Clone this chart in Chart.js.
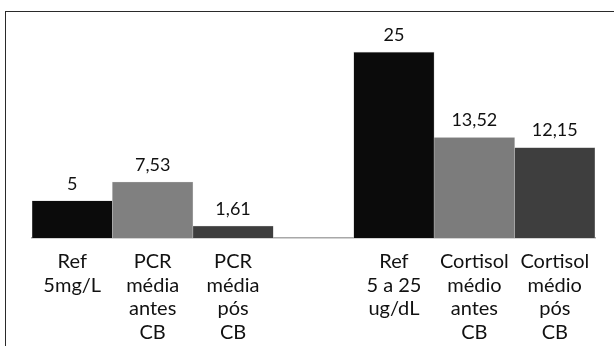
<!DOCTYPE html>
<html>
<head>
<meta charset="utf-8">
<script src="https://cdn.jsdelivr.net/npm/chart.js@4/dist/chart.umd.min.js"></script>
<style>
  html, body { margin: 0; padding: 0; background: #fff; }
  #wrap { position: relative; width: 614px; height: 346px; overflow: hidden; }
  #frame { position: absolute; left: 5px; top: 11px; width: 700px; height: 400px;
           border-top: 1.5px solid #2a2a2a; border-left: 1.5px solid #2a2a2a; }
  canvas { position: absolute; left: 0; top: 0; }
</style>
</head>
<body>
<div id="wrap">
  <div id="frame"></div>
  <canvas id="c" width="614" height="346"></canvas>
</div>
<script>
// Categories (multi-line labels), the empty slot separates the two groups
const categories = [
  ["Ref", "5mg/L"],
  ["PCR", "média", "antes", "CB"],
  ["PCR", "média", "pós", "CB"],
  [""],
  ["Ref", "5 a 25", "ug/dL"],
  ["Cortisol", "médio", "antes", "CB"],
  ["Cortisol", "médio", "pós", "CB"]
];
const values = [5, 7.53, 1.61, null, 25, 13.52, 12.15];
const barColors = ["#0b0b0b", "#808080", "#3d3d3d", "#ffffff", "#0b0b0b", "#7c7c7c", "#3e3e3e"];

const fmt = v => v.toString().replace(".", ",");

const valueLabels = {
  id: "valueLabels",
  afterDatasetsDraw(chart) {
    const ctx = chart.ctx;
    const meta = chart.getDatasetMeta(0);
    ctx.save();
    ctx.font = "18px Lato";
    ctx.fillStyle = "#111";
    ctx.textAlign = "center";
    ctx.textBaseline = "middle";
    meta.data.forEach((bar, i) => {
      const v = values[i];
      if (v === null) return;
      ctx.fillText(fmt(v), bar.x, bar.y - 17);
    });
    ctx.restore();
  }
};

new Chart(document.getElementById("c"), {
  type: "bar",
  data: {
    labels: categories,
    datasets: [{
      data: values,
      backgroundColor: barColors,
      borderColor: "#b5b5b5",
      borderWidth: 0.6,
      barPercentage: 1,
      categoryPercentage: 1
    }]
  },
  options: {
    responsive: false,
    animation: false,
    devicePixelRatio: 1,
    layout: { padding: { left: 32, right: 19, top: 15, bottom: 0 } },
    plugins: { legend: { display: false }, tooltip: { enabled: false } },
    scales: {
      y: { display: false, min: 0, max: 30 },
      x: {
        afterFit: s => { s.height = 108; },
        grid: { display: false, drawTicks: false },
        border: { display: true, color: "#a8a8a8", width: 1.5 },
        ticks: {
          padding: 12,
          color: "#111",
          maxRotation: 0,
          autoSkip: false,
          font: { family: "Lato", size: 20, lineHeight: 1.18 }
        }
      }
    }
  },
  plugins: [valueLabels]
});
</script>
</body>
</html>
